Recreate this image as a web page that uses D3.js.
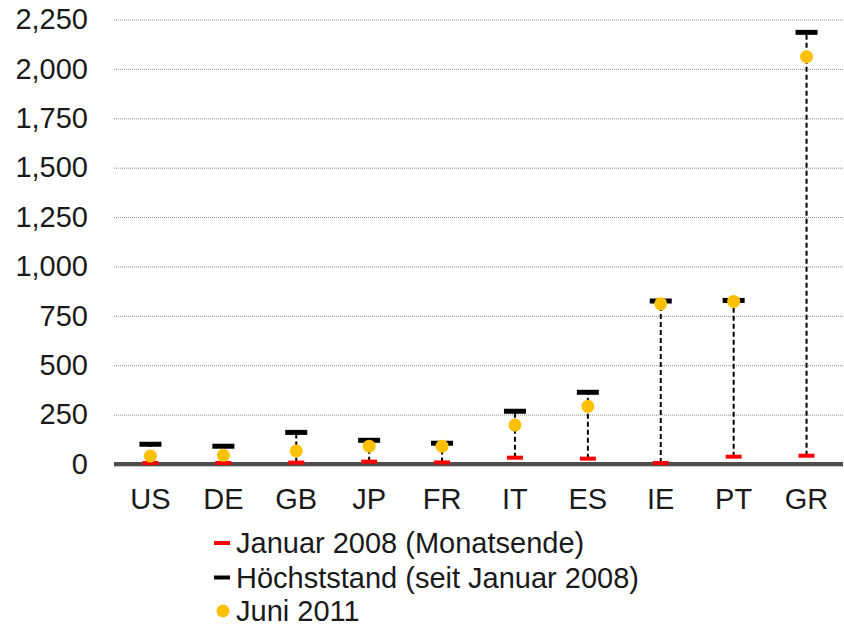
<!DOCTYPE html>
<html>
<head>
<meta charset="utf-8">
<script src="https://cdn.jsdelivr.net/npm/d3@7"></script>
<style>
  body { margin: 0; background: #fff; }
  text { font-family: "Liberation Sans", Arial, sans-serif; fill: #1a1a1a; }
</style>
</head>
<body>
<div id="chart"></div>
<script>
// data
const countries = ['US', 'DE', 'GB', 'JP', 'FR', 'IT', 'ES', 'IE', 'PT', 'GR'];
const jan2008 = [5, 5, 7, 12, 8, 32, 27, 5, 37, 42];
const peak = [100, 90, 160, 120, 105, 267, 363, 825, 828, 2185];
const jun2011 = [40, 44, 66, 90, 90, 197, 292, 811, 823, 2062];
const yTicks = [0, 250, 500, 750, 1000, 1250, 1500, 1750, 2000, 2250];
const legendLabels = ['Januar 2008 (Monatsende)', 'Höchststand (seit Januar 2008)', 'Juni 2011'];

const width = 844, height = 628;
const plotLeft = 114, plotRight = 843, plotTop = 19.5, plotBottom = 464;
const fontSize = 29;

const svg = d3.select('#chart').append('svg')
  .attr('width', width)
  .attr('height', height);

const x = d3.scaleBand().domain(countries).range([plotLeft, plotRight]);
const y = d3.scaleLinear().domain([0, 2250]).range([plotBottom, plotTop]);

// gridlines
svg.append('g')
  .selectAll('line')
  .data(yTicks.filter(d => d > 0))
  .enter().append('line')
  .attr('x1', plotLeft).attr('x2', plotRight)
  .attr('y1', d => y(d) + 0.5).attr('y2', d => y(d) + 0.5)
  .attr('stroke', '#8c8c8c')
  .attr('stroke-width', 1)
  .attr('stroke-dasharray', '1,1');

// y axis labels
const yAxis = svg.append('g')
  .attr('transform', `translate(${plotLeft - 26},0)`)
  .call(d3.axisLeft(y).tickValues(yTicks).tickSize(0).tickPadding(0).tickFormat(d3.format(',')));
yAxis.select('.domain').remove();
yAxis.selectAll('text')
  .attr('font-size', fontSize)
  .attr('font-family', '"Liberation Sans", Arial, sans-serif')
  .attr('fill', '#1a1a1a');

// x axis labels
const xAxis = svg.append('g')
  .attr('transform', `translate(0,${plotBottom + 24})`)
  .call(d3.axisBottom(x).tickSize(0).tickPadding(0));
xAxis.select('.domain').remove();
xAxis.selectAll('text')
  .attr('font-size', fontSize)
  .attr('font-family', '"Liberation Sans", Arial, sans-serif')
  .attr('fill', '#1a1a1a')
  .attr('dy', '0.71em');

// zero line
svg.append('rect')
  .attr('x', plotLeft).attr('y', y(0) - 2)
  .attr('width', plotRight - plotLeft).attr('height', 4)
  .attr('fill', '#524d4d');
svg.append('line')
  .attr('x1', plotLeft).attr('x2', plotRight)
  .attr('y1', y(0) + 2.5).attr('y2', y(0) + 2.5)
  .attr('stroke', '#c8c8c8');

const cx = c => x(c) + x.bandwidth() / 2;

// dashed range lines
svg.append('g')
  .selectAll('line')
  .data(countries)
  .enter().append('line')
  .attr('x1', d => cx(d)).attr('x2', d => cx(d))
  .attr('y1', (d, i) => y(jan2008[i]))
  .attr('y2', (d, i) => y(peak[i]))
  .attr('stroke', '#000')
  .attr('stroke-width', 2)
  .attr('stroke-dasharray', '5,3');

// peak markers
svg.append('g')
  .selectAll('rect')
  .data(countries)
  .enter().append('rect')
  .attr('x', d => cx(d) - 11)
  .attr('y', (d, i) => y(peak[i]) - 2.5)
  .attr('width', 22).attr('height', 5)
  .attr('fill', '#000');

// january markers
svg.append('g')
  .selectAll('rect')
  .data(countries)
  .enter().append('rect')
  .attr('x', d => cx(d) - 8)
  .attr('y', (d, i) => y(jan2008[i]) - 2)
  .attr('width', 16).attr('height', 4)
  .attr('fill', '#ff0000');

// june 2011 dots
svg.append('g')
  .selectAll('circle')
  .data(countries)
  .enter().append('circle')
  .attr('cx', d => cx(d))
  .attr('cy', (d, i) => y(jun2011[i]))
  .attr('r', 6.5)
  .attr('fill', '#ffc000');

// legend
const legend = svg.append('g');
const legendY = [543, 577.5, 611];
legendLabels.forEach((label, i) => {
  const row = legend.append('g').attr('transform', `translate(0,${legendY[i]})`);
  if (i < 2) {
    row.append('rect')
      .attr('x', 214).attr('y', -2)
      .attr('width', 16).attr('height', 4)
      .attr('fill', i === 0 ? '#ff0000' : '#000');
  } else {
    row.append('circle')
      .attr('cx', 223).attr('cy', 0)
      .attr('r', 6.5)
      .attr('fill', '#ffc000');
  }
  row.append('text')
    .attr('x', 236).attr('y', 10)
    .attr('font-size', fontSize)
    .text(label);
});
</script>
</body>
</html>
